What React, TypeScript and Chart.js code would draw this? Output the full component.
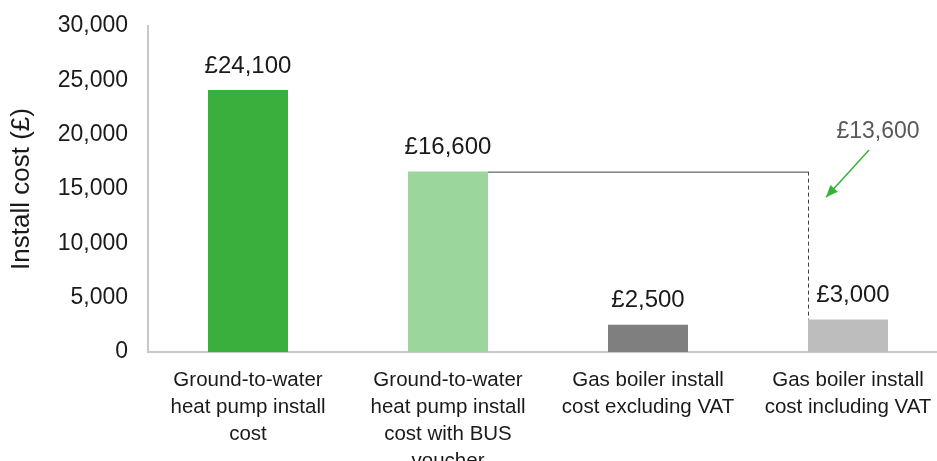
import React, { useEffect, useRef } from "react";
import { Chart, registerables } from "chart.js";

Chart.register(...registerables);

const categories: string[][] = [
  ["Ground-to-water", "heat pump install", "cost"],
  ["Ground-to-water", "heat pump install", "cost with BUS", "voucher"],
  ["Gas boiler install", "cost excluding VAT"],
  ["Gas boiler install", "cost including VAT"],
];
const installCost = [24100, 16600, 2500, 3000];
const barColors = ["#3AAF3D", "#9BD69D", "#7F7F7F", "#BDBDBD"];
const yTicks = [0, 5000, 10000, 15000, 20000, 25000, 30000];
const yTitle = "Install cost (£)";

const fmt = (v: number) => v.toLocaleString("en-US");
const FONT = "'Liberation Sans', Arial, sans-serif";

const overlayPlugin = {
  id: "overlay",
  afterDatasetsDraw(chart: any) {
    const ctx = chart.ctx;
    const meta = chart.getDatasetMeta(0);
    const yScale = chart.scales.y;
    ctx.save();
    ctx.font = `24px ${FONT}`;
    ctx.fillStyle = "#1a1a1a";
    ctx.textAlign = "center";
    ctx.textBaseline = "middle";
    meta.data.forEach((bar: any, i: number) => {
      ctx.fillText("£" + fmt(installCost[i]), bar.x + (i === 3 ? 5 : 0), bar.y - 24);
    });
    const b2 = meta.data[1];
    const b4 = meta.data[3];
    const yTop = yScale.getPixelForValue(installCost[1]);
    const yBot = yScale.getPixelForValue(installCost[3]);
    const x0 = b2.x + b2.width / 2;
    const x1 = b4.x - b4.width / 2;
    ctx.strokeStyle = "#404040";
    ctx.lineWidth = 1;
    ctx.beginPath();
    ctx.moveTo(x0, yTop + 0.5);
    ctx.lineTo(x1, yTop + 0.5);
    ctx.stroke();
    ctx.setLineDash([4, 3]);
    ctx.beginPath();
    ctx.moveTo(x1 + 0.5, yTop);
    ctx.lineTo(x1 + 0.5, yBot);
    ctx.stroke();
    ctx.setLineDash([]);
    const ax0 = x1 + 61, ay0 = yScale.getPixelForValue(18600);
    const ax1 = x1 + 18, ay1 = yScale.getPixelForValue(14250);
    ctx.strokeStyle = "#3AAF3D";
    ctx.fillStyle = "#3AAF3D";
    ctx.lineWidth = 1.5;
    ctx.beginPath();
    ctx.moveTo(ax0, ay0);
    ctx.lineTo(ax1, ay1);
    ctx.stroke();
    const ang = Math.atan2(ay1 - ay0, ax1 - ax0);
    const hl = 12, hw = 5;
    ctx.beginPath();
    ctx.moveTo(ax1, ay1);
    ctx.lineTo(ax1 - hl * Math.cos(ang) + hw * Math.sin(ang), ay1 - hl * Math.sin(ang) - hw * Math.cos(ang));
    ctx.lineTo(ax1 - hl * Math.cos(ang) - hw * Math.sin(ang), ay1 - hl * Math.sin(ang) + hw * Math.cos(ang));
    ctx.closePath();
    ctx.fill();
    ctx.font = `23px ${FONT}`;
    ctx.fillStyle = "#595959";
    ctx.fillText("£" + fmt(installCost[1] - installCost[3]), x1 + 70, yScale.getPixelForValue(20250));
    ctx.restore();
  },
};

export default function App() {
  const ref = useRef<HTMLCanvasElement>(null);
  useEffect(() => {
    if (!ref.current) return;
    const chart = new Chart(ref.current, {
      type: "bar",
      data: {
        labels: categories,
        datasets: [
          {
            data: installCost,
            backgroundColor: barColors,
            barPercentage: 0.4,
            categoryPercentage: 1,
          },
        ],
      },
      options: {
        animation: false,
        responsive: false,
        devicePixelRatio: 1,
        layout: { padding: { top: 26, right: 12, left: 0, bottom: 0 } },
        plugins: { legend: { display: false }, tooltip: { enabled: false } },
        scales: {
          x: {
            grid: { display: false, drawTicks: false },
            border: { color: "#C8C8C8", width: 2 },
            ticks: {
              color: "#1a1a1a",
              font: { family: FONT, size: 20.5, lineHeight: "27px" },
              padding: 15,
              maxRotation: 0,
              autoSkip: false,
            },
            afterFit: (s: any) => {
              s.height = 109;
              s.paddingLeft = 0;
              s.paddingRight = 0;
            },
          },
          y: {
            min: 0,
            max: 30000,
            afterBuildTicks: (s: any) => {
              s.ticks = yTicks.map((v) => ({ value: v }));
            },
            grid: { display: false, drawTicks: false },
            border: { color: "#C8C8C8", width: 2 },
            ticks: {
              color: "#1a1a1a",
              font: { family: FONT, size: 23 },
              padding: 20,
              callback: (v: any) => fmt(Number(v)),
            },
            title: {
              display: true,
              text: yTitle,
              color: "#1a1a1a",
              font: { family: FONT, size: 26 },
              padding: { top: 6, bottom: 0 },
            },
            afterFit: (s: any) => {
              s.width = 148;
              s.paddingTop = 0;
              s.paddingBottom = 0;
            },
          },
        },
      },
      plugins: [overlayPlugin],
    });
    return () => chart.destroy();
  }, []);
  return (
    <div style={{ position: "fixed", left: 0, top: 0, width: 937, height: 461, overflow: "hidden", background: "#fff" }}>
      <canvas ref={ref} width={960} height={461} style={{ width: 960, height: 461, display: "block" }} />
    </div>
  );
}
